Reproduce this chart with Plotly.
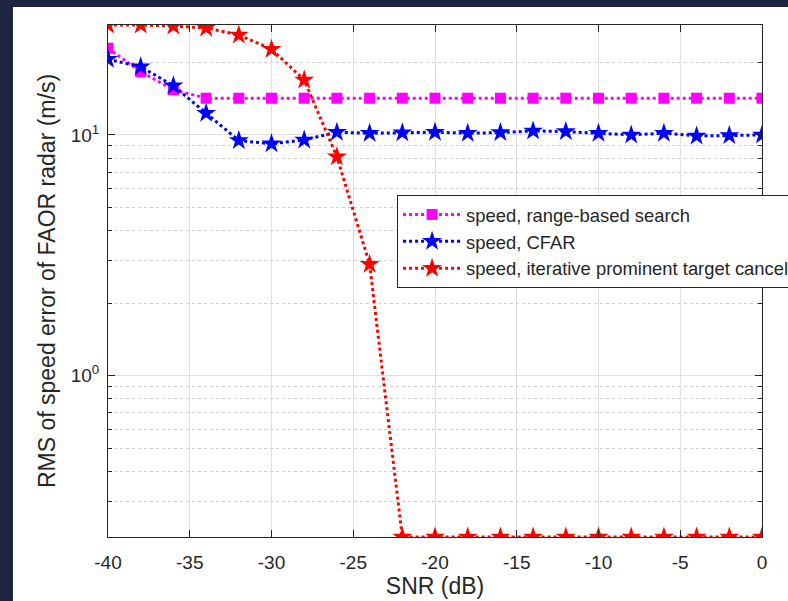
import numpy as np
import plotly.graph_objects as go

snr = [-40, -38, -36, -34, -32, -30, -28, -26, -24, -22, -20,
       -18, -16, -14, -12, -10, -8, -6, -4, -2, 0]

range_search = [22.9, 18.3, 15.4, 14.2, 14.2, 14.2, 14.2, 14.2, 14.2, 14.2, 14.2,
                14.2, 14.2, 14.2, 14.2, 14.2, 14.2, 14.2, 14.2, 14.2, 14.2]

cfar = [20.6, 19.2, 16.0, 12.3, 9.47, 9.18, 9.53, 10.26, 10.16, 10.2, 10.26,
        10.16, 10.22, 10.39, 10.32, 10.15, 10.0, 10.16, 9.9, 9.93, 10.0]

iterative = [28.6, 28.6, 28.3, 27.8, 26.0, 22.7, 16.9, 8.12, 2.90, 0.2137, 0.2137,
             0.2137, 0.2137, 0.2137, 0.2137, 0.2137, 0.2137, 0.2137, 0.2137, 0.2137, 0.2137]

names = ["speed, range-based search", "speed, CFAR",
         "speed, iterative prominent target cancel"]

x_ticks = [-40, -35, -30, -25, -20, -15, -10, -5, 0]
x_tick_text = ["-40", "-35", "-30", "-25", "-20", "-15", "-10", "-5", "0"]
y_major = [1, 10]
y_major_text = ["10<sup>0</sup>", "10<sup>1</sup>"]
y_minor = [k * 10.0 ** e for e in (-1, 0, 1) for k in range(2, 10)]

FONT = "Liberation Sans, Arial, Helvetica, sans-serif"
TXT = "#262626"
FRAME = "#1c2540"

fig = go.Figure()
fig.add_trace(go.Scatter(
    x=snr, y=range_search, name=names[0], mode="lines+markers",
    line=dict(color="#ff00ff", width=3, dash="dot"),
    marker=dict(symbol="square", size=11, color="#ff00ff"),
))
fig.add_trace(go.Scatter(
    x=snr, y=cfar, name=names[1], mode="lines+markers",
    line=dict(color="#0000ff", width=3, dash="dot"),
    marker=dict(symbol="star", size=15, color="#0000ff"),
))
fig.add_trace(go.Scatter(
    x=snr, y=iterative, name=names[2], mode="lines+markers",
    line=dict(color="#ff0000", width=3, dash="dot"),
    marker=dict(symbol="star", size=15, color="#ff0000"),
))

ymin = float(np.log10(min(iterative)))
ymax = float(np.log10(max(iterative)))

fig.update_layout(
    width=788, height=601,
    margin=dict(l=108, r=26, t=25, b=64, autoexpand=False),
    paper_bgcolor="white", plot_bgcolor="white",
    font=dict(family=FONT, color=TXT, size=19),
    showlegend=True,
    legend=dict(
        x=0.442, y=0.668, xanchor="left", yanchor="top",
        bgcolor="white", bordercolor="#262626", borderwidth=1,
        font=dict(family=FONT, size=18.4, color=TXT),
        itemwidth=58, tracegroupgap=0,
    ),
    xaxis=dict(
        range=[-40, 0], tickvals=x_ticks, ticktext=x_tick_text,
        ticks="inside", ticklen=7, tickcolor="#262626", tickwidth=1,
        showline=True, linecolor="#262626", linewidth=1, mirror="ticks",
        showgrid=True, gridcolor="#dfdfdf", gridwidth=1, zeroline=False,
        tickfont=dict(size=19, color=TXT), ticklabelstandoff=8,
        title=dict(text="SNR (dB)", font=dict(size=23, color=TXT), standoff=6),
    ),
    yaxis=dict(
        type="log", range=[ymin, ymax],
        tickvals=y_major, ticktext=y_major_text,
        ticks="inside", ticklen=7, tickcolor="#262626", tickwidth=1,
        showline=True, linecolor="#262626", linewidth=1, mirror="ticks",
        showgrid=True, gridcolor="#dfdfdf", gridwidth=1, zeroline=False,
        tickfont=dict(size=19, color=TXT), ticklabelstandoff=4,
        minor=dict(tickvals=y_minor, ticks="inside", ticklen=4,
                   tickcolor="#262626", showgrid=True, gridcolor="#cfcfcf",
                   griddash="3px,3px", gridwidth=1),
        title=dict(text="RMS of speed error of FAOR radar (m/s)",
                   font=dict(size=23, color=TXT), standoff=8),
    ),
    shapes=[
        dict(type="rect", xref="paper", yref="paper", x0=-0.2, x1=-0.1453,
             y0=-0.2, y1=1.1, fillcolor=FRAME, line=dict(width=0), layer="above"),
        dict(type="rect", xref="paper", yref="paper", x0=-0.2, x1=1.1,
             y0=1.0352, y1=1.1, fillcolor=FRAME, line=dict(width=0), layer="above"),
    ],
)

fig.write_html(
    "out.html",
    config={"displayModeBar": False},
    post_script="document.body.style.margin='0';document.body.style.overflow='hidden';",
)
